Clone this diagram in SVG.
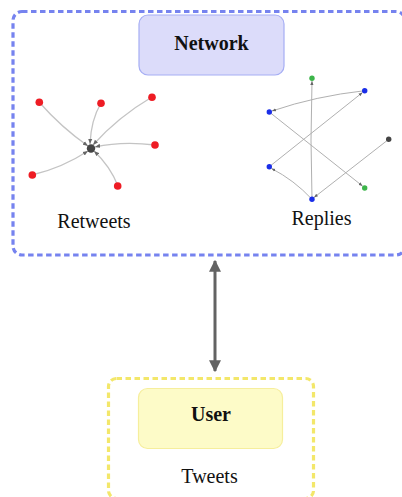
<svg xmlns="http://www.w3.org/2000/svg" width="402" height="497" viewBox="0 0 402 497">
<defs>
<style>
.serif{font-family:"Liberation Serif","DejaVu Serif",serif;fill:#111;}
.lbl{font-size:20px;text-anchor:middle;}
.bold{font-weight:bold;}
.edge{fill:none;stroke:#c4c4c4;stroke-width:1.3;}
.redge{fill:none;stroke:#b0b0b0;stroke-width:1;}
.red{fill:#ee1c24;}
.blue{fill:#1a2ee8;}
.green{fill:#3cb54a;}
.dark{fill:#444;}
</style>
<marker id="ah" viewBox="0 0 10 10" refX="10" refY="5" markerWidth="4" markerHeight="4" orient="auto">
<path d="M0,1 L10,5 L0,9 z" fill="#666"/>
</marker>
<marker id="big" viewBox="0 0 10 10" refX="9" refY="5" markerWidth="4" markerHeight="4" orient="auto-start-reverse">
<path d="M0,0 L10,5 L0,10 z" fill="#636363"/>
</marker>
</defs>

<g id="network-group">
<rect x="13" y="11.5" width="392" height="243.5" rx="9" fill="none" stroke="#7683ef" stroke-width="3.2" stroke-dasharray="5.5 3.5"/>
</g>
<g id="network">
<rect x="139" y="15" width="145" height="60" rx="9" fill="#dcdcfa" stroke="#a6aef4" stroke-width="1.2"/>
<text class="serif lbl bold" x="211.5" y="50">Network</text>
</g>

<g id="retweets-edges">
<path class="edge" d="M39,102 Q62,128 88,146" marker-end="url(#ah)"/>
<path class="edge" d="M101,103 Q91,120 90,144" marker-end="url(#ah)"/>
<path class="edge" d="M152,97 Q118,117 93,145" marker-end="url(#ah)"/>
<path class="edge" d="M155,145 Q122,141 95,147" marker-end="url(#ah)"/>
<path class="edge" d="M32,175 Q62,168 88,151" marker-end="url(#ah)"/>
<path class="edge" d="M118,186 Q110,166 94,151" marker-end="url(#ah)"/>
</g>
<g id="retweets">
<circle class="dark" cx="91" cy="148.5" r="4.2"/>
<circle class="red" cx="39.3" cy="102.3" r="3.8"/>
<circle class="red" cx="101" cy="103.3" r="3.8"/>
<circle class="red" cx="152" cy="97.3" r="3.8"/>
<circle class="red" cx="155" cy="145" r="3.8"/>
<circle class="red" cx="32.3" cy="175" r="3.8"/>
<circle class="red" cx="117.7" cy="186" r="3.8"/>
<text class="serif lbl" x="94" y="228">Retweets</text>
</g>

<g id="replies-edges">
<path class="redge" d="M364.7,90.7 Q316,96 272,111" marker-end="url(#ah)"/>
<path class="redge" d="M269.3,112 L362.5,186" marker-end="url(#ah)"/>
<path class="redge" d="M269.3,166.7 L362.5,92.5" marker-end="url(#ah)"/>
<path class="redge" d="M312,199.3 Q294,180 271.5,168.5" marker-end="url(#ah)"/>
<path class="redge" d="M312,199.3 Q310,140 312,81" marker-end="url(#ah)"/>
<path class="redge" d="M388.7,139.3 L314,197.5" marker-end="url(#ah)"/>
</g>
<g id="replies">
<circle class="green" cx="312" cy="78.3" r="2.7"/>
<circle class="blue" cx="364.7" cy="90.7" r="2.7"/>
<circle class="blue" cx="269.3" cy="112" r="2.7"/>
<circle class="dark" cx="388.7" cy="139.3" r="2.7"/>
<circle class="blue" cx="269.3" cy="166.7" r="2.7"/>
<circle class="green" cx="364.7" cy="188" r="2.7"/>
<circle class="blue" cx="312" cy="199.3" r="2.7"/>
<text class="serif lbl" x="321.5" y="225">Replies</text>
</g>

<g id="connectors">
<line x1="215" y1="261" x2="215" y2="371" stroke="#636363" stroke-width="3" marker-start="url(#big)" marker-end="url(#big)"/>
</g>

<g id="user-group">
<rect x="108.5" y="378.5" width="205" height="120" rx="8" fill="none" stroke="#f3e76a" stroke-width="3.2" stroke-dasharray="5.5 3.5"/>
<text class="serif lbl" x="209.5" y="483">Tweets</text>
</g>
<g id="user">
<rect x="138.5" y="388.5" width="144" height="60" rx="9" fill="#fdfbc8" stroke="#f6ee9c" stroke-width="1.2"/>
<text class="serif lbl bold" x="211" y="421">User</text>
</g>
</svg>
